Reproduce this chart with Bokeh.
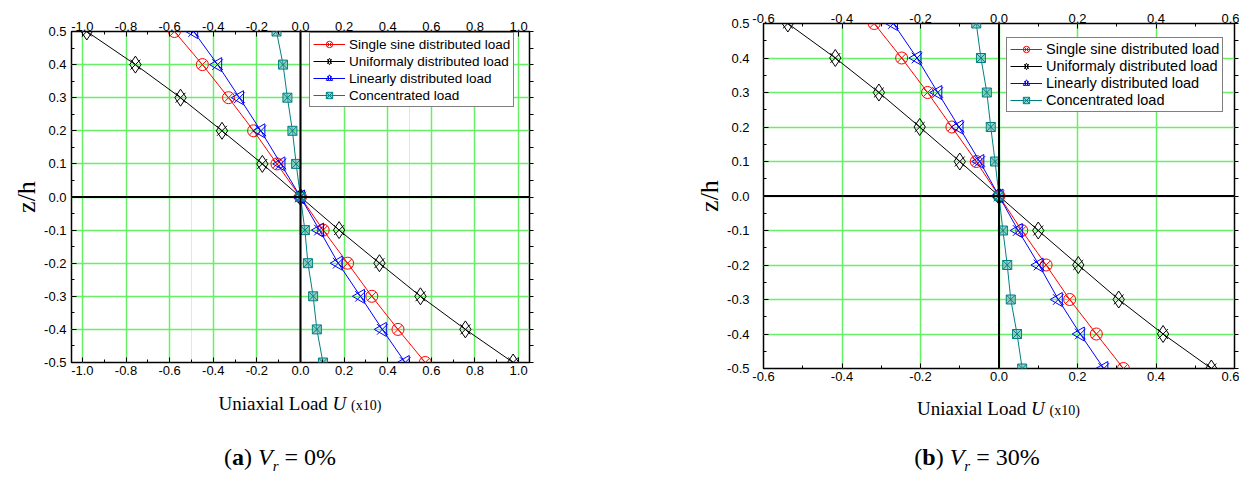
import math
from bokeh.plotting import figure
from bokeh.models import (LinearAxis, FixedTicker, Span, Legend, LegendItem,
                          Div, Range1d, Grid)
from bokeh.layouts import row, column
from bokeh.embed import file_html
from bokeh.resources import INLINE

# ---------------- data ----------------
z = [0.5, 0.4, 0.3, 0.2, 0.1, 0.0, -0.1, -0.2, -0.3, -0.4, -0.5]

series_names = ["Single sine distributed load", "Uniformaly distributed load",
                "Linearly distributed load", "Concentrated load"]

# (a) Vr = 0%
a_sine = [-0.578, -0.45, -0.33, -0.215, -0.108, 0.0, 0.104, 0.216, 0.327, 0.447, 0.572]
a_uniform = [-0.98, -0.757, -0.55, -0.36, -0.175, 0.0, 0.177, 0.362, 0.55, 0.756, 0.975]
a_linear = [-0.49, -0.38, -0.28, -0.182, -0.09, 0.0, 0.087, 0.173, 0.275, 0.375, 0.48]
a_conc = [-0.11, -0.08, -0.06, -0.037, -0.02, 0.0, 0.02, 0.034, 0.058, 0.075, 0.103]

# (b) Vr = 30%
b_sine = [-0.318, -0.248, -0.182, -0.12, -0.058, 0.0, 0.058, 0.12, 0.18, 0.248, 0.317]
b_uniform = [-0.538, -0.417, -0.306, -0.202, -0.10, 0.0, 0.10, 0.202, 0.305, 0.418, 0.541]
b_linear = [-0.269, -0.209, -0.156, -0.102, -0.049, 0.0, 0.049, 0.102, 0.151, 0.207, 0.267]
b_conc = [-0.058, -0.046, -0.031, -0.021, -0.01, 0.0, 0.01, 0.021, 0.03, 0.046, 0.059]

# ticks
a_xticks = [-1.0, -0.8, -0.6, -0.4, -0.2, 0.0, 0.2, 0.4, 0.6, 0.8, 1.0]
a_xlabels = ["-1.0", "-0.8", "-0.6", "-0.4", "-0.2", "0.0", "0.2", "0.4", "0.6", "0.8", "1.0"]
a_xminor = [-0.9, -0.7, -0.5, -0.3, -0.1, 0.1, 0.3, 0.5, 0.7, 0.9]
b_xticks = [-0.6, -0.4, -0.2, 0.0, 0.2, 0.4, 0.6]
b_xlabels = ["-0.6", "-0.4", "-0.2", "0.0", "0.2", "0.4", "0.6"]
b_xminor = [-0.5, -0.3, -0.1, 0.1, 0.3, 0.5]
yticks = [0.5, 0.4, 0.3, 0.2, 0.1, 0.0, -0.1, -0.2, -0.3, -0.4, -0.5]
ylabels = ["0.5", "0.4", "0.3", "0.2", "0.1", "0.0", "-0.1", "-0.2", "-0.3", "-0.4", "-0.5"]
yminor = [0.45, 0.35, 0.25, 0.15, 0.05, -0.05, -0.15, -0.25, -0.35, -0.45]

x_label_html = ('Uniaxial Load <i>U</i> <span style="font-size:14px">(x10)</span>')
captions = ['(<b>a</b>) <i>V</i><sub style="font-size:15px"><i>r</i></sub> = 0%',
            '(<b>b</b>) <i>V</i><sub style="font-size:15px"><i>r</i></sub> = 30%']

TICK_FONT = "Liberation Sans"
SERIF = "Liberation Serif"


def make_panel(xr, xticks, xlabels, xminor, sine, uniform, linear, conc,
               fw, fh, bl, br, bt, bb, ystand, leg_loc, leg_font):
    p = figure(frame_width=fw, frame_height=fh,
               x_range=Range1d(xr[0], xr[1]), y_range=Range1d(-0.5, 0.5),
               output_backend="svg", toolbar_location=None,
               x_axis_location=None, y_axis_location=None,
               min_border_left=bl, min_border_right=br,
               min_border_top=bt, min_border_bottom=bb)
    p.background_fill_color = "white"
    p.border_fill_color = "white"
    p.outline_line_color = "black"
    p.outline_line_width = 1.5
    p.outline_line_alpha = 1.0

    xt = FixedTicker(ticks=xticks, minor_ticks=xminor)
    yt = FixedTicker(ticks=yticks, minor_ticks=yminor)
    xover = {t: l for t, l in zip(xticks, xlabels)}
    yover = {t: l for t, l in zip(yticks, ylabels)}

    def style(ax, stand=3):
        ax.axis_line_color = None
        ax.major_tick_in = 5
        ax.major_tick_out = 0
        ax.minor_tick_in = 3
        ax.minor_tick_out = 0
        ax.major_tick_line_color = "black"
        ax.minor_tick_line_color = "black"
        ax.major_label_text_font = TICK_FONT
        ax.major_label_text_font_size = "13px"
        ax.major_label_text_color = "black"
        ax.major_label_standoff = stand

    left = LinearAxis(ticker=yt, major_label_overrides=yover)
    style(left, stand=ystand)
    left.axis_label = "z/h"
    left.axis_label_text_font = SERIF
    left.axis_label_text_font_size = "26px"
    left.axis_label_text_font_style = "normal"
    left.axis_label_text_color = "black"
    left.axis_label_standoff = 0
    p.add_layout(left, "left")

    # right side: tick marks only (no labels)
    right = LinearAxis(ticker=FixedTicker(ticks=[], minor_ticks=yticks + yminor))
    right.axis_line_color = None
    right.major_tick_in = 0
    right.major_tick_out = 0
    right.minor_tick_in = 0
    right.minor_tick_out = 4
    right.minor_tick_line_color = "black"
    p.add_layout(right, "right")

    below = LinearAxis(ticker=xt, major_label_overrides=xover)
    style(below, stand=3)
    p.add_layout(below, "below")

    above = LinearAxis(ticker=xt, major_label_overrides=xover)
    style(above, stand=1)
    p.add_layout(above, "above")

    for dim, tk in ((0, xt), (1, yt)):
        g = Grid(dimension=dim, ticker=tk)
        g.grid_line_color = "#66f066"
        g.grid_line_width = 1.5
        p.add_layout(g)

    p.add_layout(Span(location=0, dimension="height", line_color="black", line_width=2))
    p.add_layout(Span(location=0, dimension="width", line_color="black", line_width=2))

    # series
    r1 = p.line(sine, z, line_color="red", line_width=1)
    s1 = p.scatter(sine, z, marker="circle_x", size=12, line_color="red",
                   fill_color=None, line_width=1)

    r2 = p.line(uniform, z, line_color="black", line_width=1)
    s2a = p.scatter(uniform, z, marker="diamond", size=17, line_color="black",
                    fill_color=None, line_width=1)
    s2b = p.scatter(uniform, z, marker="x", size=14, line_color="black", line_width=1)

    r3 = p.line(linear, z, line_color="blue", line_width=1)
    s3a = p.scatter(linear, z, marker="triangle", angle=math.pi / 2, size=14,
                    line_color="blue", fill_color=None, line_width=1)
    s3b = p.scatter(linear, z, marker="x", size=15, line_color="blue", line_width=1)

    r4 = p.line(conc, z, line_color="#008080", line_width=1)
    s4 = p.scatter(conc, z, marker="square_x", size=9, line_color="#008080",
                   fill_color="#5fb0b0", fill_alpha=0.6, line_width=1)

    items = [LegendItem(label=series_names[0], renderers=[r1, s1]),
             LegendItem(label=series_names[1], renderers=[r2, s2a, s2b]),
             LegendItem(label=series_names[2], renderers=[r3, s3a, s3b]),
             LegendItem(label=series_names[3], renderers=[r4, s4])]
    leg = Legend(items=items, location=leg_loc)
    leg.label_text_font = TICK_FONT
    leg.label_text_font_size = leg_font
    leg.label_text_color = "black"
    leg.label_height = 16
    leg.glyph_height = 16
    leg.glyph_width = 32
    leg.label_standoff = 4
    leg.spacing = 1
    leg.padding = 3
    leg.margin = 0
    leg.border_line_color = "black"
    leg.border_line_width = 1
    leg.background_fill_color = "white"
    leg.background_fill_alpha = 1.0
    p.add_layout(leg, "center")
    return p


p1 = make_panel((-1.05, 1.05), a_xticks, a_xlabels, a_xminor,
                a_sine, a_uniform, a_linear, a_conc,
                fw=458, fh=331, bl=71, br=146, bt=31, bb=26, ystand=5,
                leg_loc=(238, 255), leg_font="13.5px")
p2 = make_panel((-0.6, 0.6), b_xticks, b_xlabels, b_xminor,
                b_sine, b_uniform, b_linear, b_conc,
                fw=471, fh=345, bl=88, br=5, bt=23, bb=26, ystand=14,
                leg_loc=(243, 256), leg_font="14.5px")


def caption_div(width, left, fw, cap_w, xl_top, cap_top, cap):
    html = (
        f'<div style="position:relative;width:{width}px;height:80px;'
        f'font-family:\'Liberation Serif\',serif;color:#000;">'
        f'<div style="position:absolute;left:{left}px;width:{fw}px;top:{xl_top}px;'
        f'text-align:center;font-size:19px;line-height:22px;white-space:nowrap;">{x_label_html}</div>'
        f'<div style="position:absolute;left:{left}px;width:{cap_w}px;top:{cap_top}px;'
        f'text-align:center;font-size:24px;line-height:28px;white-space:nowrap;">{cap}</div>'
        f'</div>')
    return Div(text=html, width=width, height=80, margin=(0, 0, 0, 0))


d1 = caption_div(675, 71, 458, 418, 5, 55, captions[0])
d2 = caption_div(564, 88, 471, 428, 4, 49, captions[1])

layout = row(column(p1, d1), column(p2, d2))

with open("out.html", "w") as f:
    f.write(file_html(layout, INLINE))
